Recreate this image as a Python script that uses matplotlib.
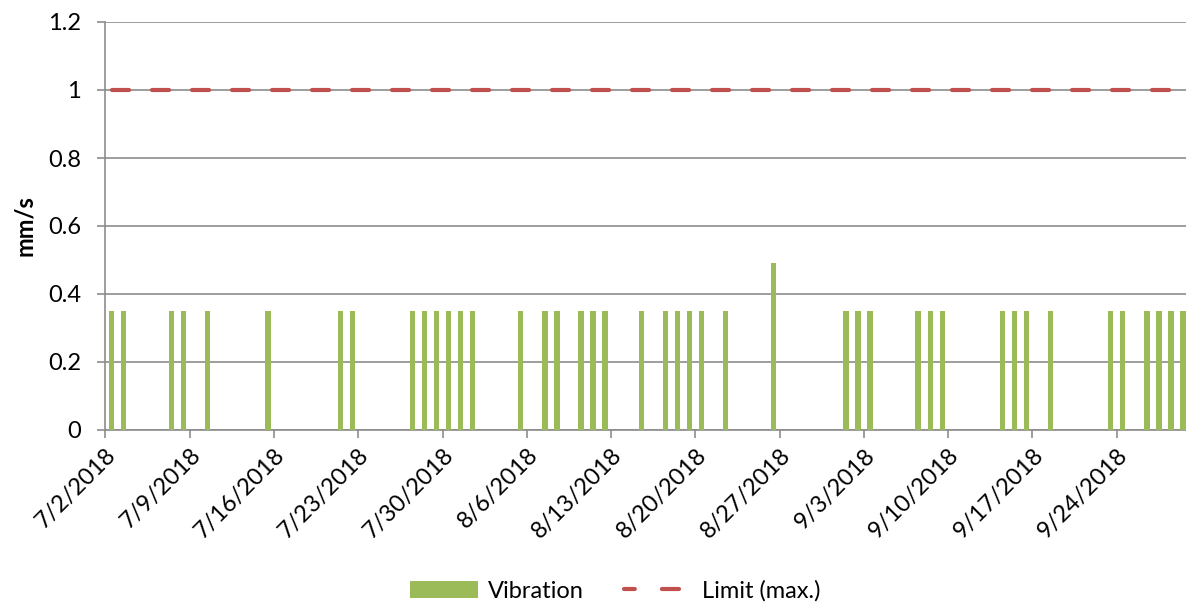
import datetime as dt
import numpy as np
import matplotlib
matplotlib.use('Agg')
import matplotlib.pyplot as plt
from matplotlib.lines import Line2D
from matplotlib.patches import Patch

# daily vibration readings (mm/s), only days with a reading
dates = ['2018-07-02', '2018-07-03', '2018-07-07', '2018-07-08', '2018-07-10',
         '2018-07-15', '2018-07-21', '2018-07-22', '2018-07-27', '2018-07-28',
         '2018-07-29', '2018-07-30', '2018-07-31', '2018-08-01', '2018-08-05',
         '2018-08-07', '2018-08-08', '2018-08-10', '2018-08-11', '2018-08-12',
         '2018-08-15', '2018-08-17', '2018-08-18', '2018-08-19', '2018-08-20',
         '2018-08-22', '2018-08-26', '2018-09-01', '2018-09-02', '2018-09-03',
         '2018-09-07', '2018-09-08', '2018-09-09', '2018-09-14', '2018-09-15',
         '2018-09-16', '2018-09-18', '2018-09-23', '2018-09-24', '2018-09-26',
         '2018-09-27', '2018-09-28', '2018-09-29']
vibration = [0.35, 0.35, 0.35, 0.35, 0.35,
             0.35, 0.35, 0.35, 0.35, 0.35,
             0.35, 0.35, 0.35, 0.35, 0.35,
             0.35, 0.35, 0.35, 0.35, 0.35,
             0.35, 0.35, 0.35, 0.35, 0.35,
             0.35, 0.49, 0.35, 0.35, 0.35,
             0.35, 0.35, 0.35, 0.35, 0.35,
             0.35, 0.35, 0.35, 0.35, 0.35,
             0.35, 0.35, 0.35]
limit = 1.0
start = dt.date(2018, 7, 2)
n_days = 90
tick_dates = ['2018-07-02', '2018-07-09', '2018-07-16', '2018-07-23', '2018-07-30',
              '2018-08-06', '2018-08-13', '2018-08-20', '2018-08-27', '2018-09-03',
              '2018-09-10', '2018-09-17', '2018-09-24']

def day_index(s):
    return (dt.date.fromisoformat(s) - start).days

def label(s):
    d = dt.date.fromisoformat(s)
    return '%d/%d/%d' % (d.month, d.day, d.year)

plt.rcParams['font.family'] = ['Lato', 'DejaVu Sans']
green = '#9BBB59'
red = '#C0504D'
grid_c = '#8C8C8C'
fs = 17

fig = plt.figure(figsize=(11.86, 6.05), dpi=100)
ax = fig.add_axes([105.5 / 1186, 175 / 605, 1083.5 / 1186, 408 / 605])

x = np.array([day_index(d) for d in dates]) + 0.5
ax.bar(x, vibration, width=0.44, color=green, zorder=3)
ax.plot([0.5, n_days - 0.5], [limit, limit], color=red, lw=3,
        dashes=(4.1, 5.5), dash_capstyle='round', zorder=4)

ax.set_xlim(0, n_days)
ax.set_ylim(0, 1.2)
ax.set_yticks(np.arange(0, 1.21, 0.2))
ax.set_yticklabels(['0', '0.2', '0.4', '0.6', '0.8', '1', '1.2'])
ax.yaxis.grid(True, color=grid_c, lw=1.2, zorder=0)
ax.set_xticks([day_index(d) for d in tick_dates])
ax.set_xticklabels([label(d) for d in tick_dates], rotation=45, ha='right',
                   va='top', rotation_mode='anchor')

for s in ['top', 'right']:
    ax.spines[s].set_visible(False)
for s in ['left', 'bottom']:
    ax.spines[s].set_color(grid_c)
    ax.spines[s].set_linewidth(1.2)
ax.tick_params(axis='both', length=5.5, width=1.2, color=grid_c, labelsize=fs,
               direction='out')
ax.tick_params(axis='y', pad=12)
ax.tick_params(axis='x', pad=5)
ax.set_ylabel('mm/s', fontsize=fs, fontweight='bold', labelpad=9)

handles = [Patch(facecolor=green, edgecolor='none', label='Vibration'),
           Line2D([], [], color=red, lw=3, linestyle=(1.5, (4.1, 6.5)),
                  dash_capstyle='round', label='Limit (max.)')]
fig.legend(handles=handles, loc='center', bbox_to_anchor=(615 / 1186, 1 - 591 / 605),
           ncol=2, frameon=False, fontsize=fs, handlelength=2.9, handleheight=0.7,
           columnspacing=1.7, handletextpad=0.4)

fig.savefig('out.png', dpi=100)
